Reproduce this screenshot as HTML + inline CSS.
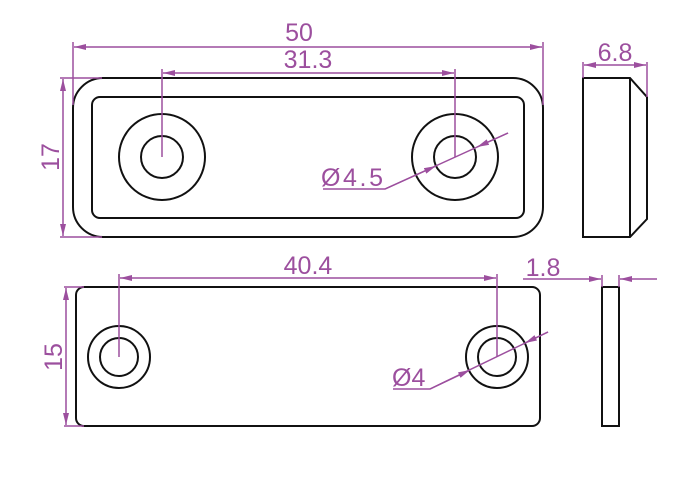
<!DOCTYPE html>
<html><head><style>html,body{margin:0;padding:0;background:#fff}svg{display:block}</style></head>
<body>
<svg width="700" height="490" viewBox="0 0 700 490" xmlns="http://www.w3.org/2000/svg">
<defs>
<marker id="a" viewBox="0 0 12 6" refX="12" refY="3" markerWidth="12" markerHeight="6" markerUnits="userSpaceOnUse" orient="auto-start-reverse"><path d="M0,0 L12,3 L0,6 Z" fill="#9c4f9e"/></marker>
</defs>
<g fill="none" stroke="#111" stroke-width="2">
<rect x="73" y="78" width="470" height="159" rx="30"/>
<rect x="92" y="97" width="432" height="121" rx="8"/>
<circle cx="162" cy="157" r="43"/><circle cx="162" cy="157" r="21"/>
<circle cx="455" cy="157" r="43"/><circle cx="455" cy="157" r="21"/>
<path d="M583,78 H630 L647,97 V219 L630,237 H583 Z M630,78 V237"/>
<rect x="76" y="287" width="464" height="139" rx="8"/>
<circle cx="119" cy="357" r="31"/><circle cx="119" cy="357" r="19"/>
<circle cx="497" cy="357" r="31"/><circle cx="497" cy="357" r="19"/>
<rect x="602" y="287" width="17" height="139"/>
</g>
<g fill="none" stroke="#9c4f9e" stroke-width="1.5">
<line x1="73" y1="42" x2="73" y2="105"/><line x1="543" y1="42" x2="543" y2="105"/>
<line x1="74" y1="47" x2="542" y2="47" marker-start="url(#a)" marker-end="url(#a)"/>
<line x1="162" y1="69" x2="162" y2="157"/><line x1="455" y1="69" x2="455" y2="157"/>
<line x1="163" y1="73" x2="454" y2="73" marker-start="url(#a)" marker-end="url(#a)"/>
<line x1="60" y1="78" x2="102" y2="78"/><line x1="60" y1="237" x2="102" y2="237"/>
<line x1="63" y1="79" x2="63" y2="236" marker-start="url(#a)" marker-end="url(#a)"/>
<path d="M508,133 L385,189 H323"/>
<line x1="508" y1="133" x2="477" y2="147" marker-end="url(#a)"/>
<line x1="385" y1="189" x2="436" y2="166" marker-end="url(#a)"/>
<line x1="583" y1="62" x2="583" y2="78"/><line x1="647" y1="62" x2="647" y2="97"/>
<line x1="584" y1="65" x2="646" y2="65" marker-start="url(#a)" marker-end="url(#a)"/>
<line x1="119" y1="274" x2="119" y2="357"/><line x1="497" y1="274" x2="497" y2="357"/>
<line x1="120" y1="278" x2="496" y2="278" marker-start="url(#a)" marker-end="url(#a)"/>
<line x1="64" y1="287" x2="84" y2="287"/><line x1="64" y1="426" x2="84" y2="426"/>
<line x1="66" y1="288" x2="66" y2="425" marker-start="url(#a)" marker-end="url(#a)"/>
<path d="M548,332 L430,389 H393"/>
<line x1="548" y1="332" x2="525" y2="343" marker-end="url(#a)"/>
<line x1="430" y1="389" x2="470" y2="370" marker-end="url(#a)"/>
<line x1="602" y1="275" x2="602" y2="287"/><line x1="619" y1="275" x2="619" y2="287"/>
<line x1="523" y1="279" x2="601" y2="279" marker-end="url(#a)"/>
<line x1="657" y1="279" x2="620" y2="279" marker-end="url(#a)"/>
</g>
<g fill="#9c4f9e" font-family="Liberation Sans, sans-serif" font-size="25">
<text x="299" y="41" text-anchor="middle">50</text>
<text x="308" y="68" text-anchor="middle">31.3</text>
<text x="321" y="186" textLength="62">Ø4.5</text>
<text x="615" y="61" text-anchor="middle">6.8</text>
<text x="308" y="274" text-anchor="middle">40.4</text>
<text x="392" y="386">Ø4</text>
<text x="543" y="276" text-anchor="middle">1.8</text>
<text transform="translate(59,157) rotate(-90)" text-anchor="middle">17</text>
<text transform="translate(62,357) rotate(-90)" text-anchor="middle">15</text>
</g>
</svg>
</body></html>
